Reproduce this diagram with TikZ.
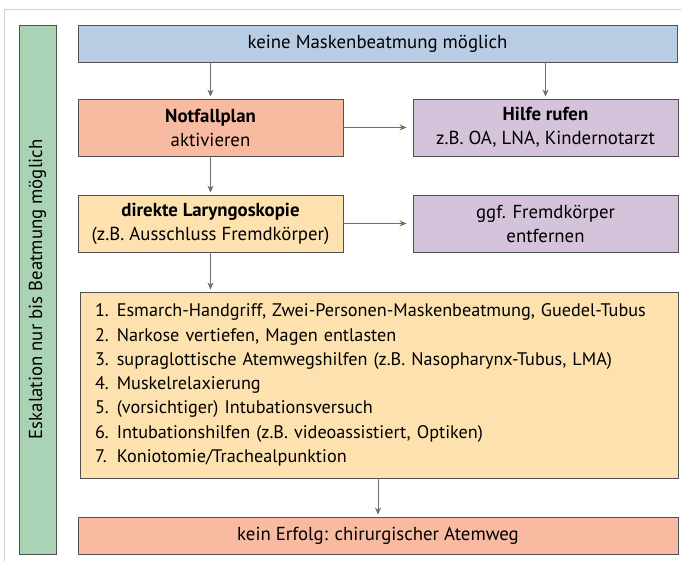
\documentclass[tikz,border=0pt]{standalone}
\usepackage{fontspec}
\setmainfont{PT Sans}
\usepackage{xcolor}
\usetikzlibrary{arrows.meta,positioning}

\definecolor{kopfblau}{HTML}{B8CCE4}
\definecolor{lachs}{HTML}{F9BAA2}
\definecolor{sandgelb}{HTML}{FDE2B0}
\definecolor{flieder}{HTML}{D5C3DB}
\definecolor{balkengruen}{HTML}{AAD3B6}
\definecolor{boxrand}{HTML}{505050}
\definecolor{pfeilgrau}{HTML}{6E6E6E}
\definecolor{rahmengrau}{HTML}{D0D0D0}

\newcommand{\nr}[1]{\makebox[1.2em][l]{#1.}}

\begin{document}
\begin{tikzpicture}[x=1pt, y=-1pt,
    box/.style={rectangle, draw=boxrand, line width=0.9pt, minimum width=265pt, minimum height=57pt, align=center, inner sep=0pt, font=\fontsize{18.8}{24}\selectfont},
    breit/.style={box, minimum width=600pt, minimum height=37pt},
    pfeil/.style={-{Stealth[length=7pt,width=6pt]}, line width=0.9pt, draw=pfeilgrau, shorten >=2pt},
    rahmen/.style={draw=rahmengrau, line width=1pt}
]
\useasboundingbox (0,0) rectangle (681,561);

% Rahmen
\draw[rahmen] (4,561) |- (681,10);

% Eskalation
\node[box, fill=balkengruen, rotate=90, minimum width=529pt, minimum height=37pt] (eskalation) at (37.5,289.5) {Eskalation nur bis Beatmung möglich};

% Ablauf
\node[breit, fill=kopfblau, minimum width=599pt] (start) at (377.5,43.5) {keine Maskenbeatmung möglich};

\node[box, fill=lachs] (notfall) at (210.5,127.5) {\textbf{Notfallplan}\\aktivieren};
\node[box, fill=flieder] (hilfe) at (545.5,127.5) {\textbf{Hilfe rufen}\\z.B. OA, LNA, Kindernotarzt};

\node[box, fill=sandgelb] (laryngo) at (210.5,223.5) {\textbf{direkte Laryngoskopie}\\(z.B. Ausschluss Fremdkörper)};
\node[box, fill=flieder] (fremd) at (545.5,223.5) {ggf. Fremdkörper\\entfernen};

\node[box, fill=sandgelb, minimum width=598pt, minimum height=186pt, text width=568pt, inner xsep=15pt, align=left, font=\fontsize{18.2}{24.3}\selectfont] (stufen) at (379,385) {%
\nr{1}Esmarch-Handgriff, Zwei-Personen-Maskenbeatmung, Guedel-Tubus\\
\nr{2}Narkose vertiefen, Magen entlasten\\
\nr{3}supraglottische Atemwegshilfen (z.B. Nasopharynx-Tubus, LMA)\\
\nr{4}Muskelrelaxierung\\
\nr{5}(vorsichtiger) Intubationsversuch\\
\nr{6}Intubationshilfen (z.B. videoassistiert, Optiken)\\
\nr{7}Koniotomie/Trachealpunktion};

\node[breit, fill=lachs] (chirurg) at (378,535.5) {kein Erfolg: chirurgischer Atemweg};

% Pfeile
\draw[pfeil] (start.south -| notfall.north) -- (notfall.north);
\draw[pfeil] (start.south -| hilfe.north) -- (hilfe.north);
\draw[pfeil, shorten >=6pt] (notfall.east) -- (hilfe.west);
\draw[pfeil] (notfall.south) -- (laryngo.north);
\draw[pfeil, shorten >=6pt] (laryngo.east) -- (fremd.west);
\draw[pfeil] (laryngo.south) -- (laryngo.south |- stufen.north);
\draw[pfeil] (stufen.south -| chirurg.north) -- (chirurg.north);

\end{tikzpicture}
\end{document}
